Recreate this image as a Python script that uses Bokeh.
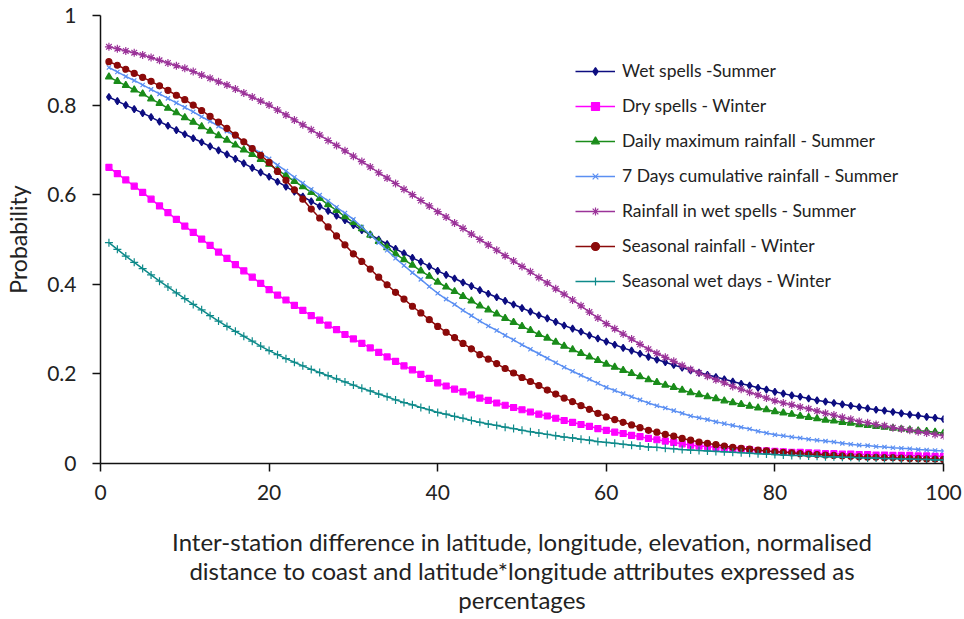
from bokeh.plotting import figure
from bokeh.models import Range1d, FixedTicker, Legend, LegendItem
from bokeh.embed import file_html
from bokeh.resources import INLINE

x_values = list(range(1, 101))

wet_spells_summer = [
    0.818, 0.809, 0.800, 0.791, 0.782, 0.773, 0.763, 0.754, 0.744, 0.735,
    0.726, 0.717, 0.708, 0.699, 0.690, 0.680, 0.670, 0.660, 0.650, 0.640,
    0.629, 0.618, 0.607, 0.596, 0.585, 0.574, 0.564, 0.553, 0.543, 0.532,
    0.521, 0.511, 0.500, 0.490, 0.479, 0.469, 0.459, 0.450, 0.440, 0.430,
    0.421, 0.413, 0.404, 0.396, 0.387, 0.379, 0.371, 0.363, 0.355, 0.347,
    0.339, 0.331, 0.324, 0.316, 0.308, 0.301, 0.294, 0.286, 0.279, 0.272,
    0.265, 0.258, 0.252, 0.245, 0.238, 0.232, 0.226, 0.220, 0.214, 0.208,
    0.203, 0.198, 0.193, 0.188, 0.183, 0.178, 0.174, 0.169, 0.165, 0.160,
    0.156, 0.152, 0.149, 0.145, 0.141, 0.138, 0.135, 0.132, 0.129, 0.126,
    0.123, 0.120, 0.118, 0.115, 0.112, 0.109, 0.107, 0.104, 0.102, 0.099,
]

dry_spells_winter = [
    0.661, 0.647, 0.633, 0.619, 0.605, 0.590, 0.575, 0.560, 0.545, 0.530,
    0.516, 0.501, 0.487, 0.472, 0.458, 0.444, 0.430, 0.416, 0.402, 0.388,
    0.376, 0.365, 0.353, 0.342, 0.330, 0.320, 0.309, 0.299, 0.288, 0.278,
    0.268, 0.258, 0.248, 0.238, 0.228, 0.218, 0.209, 0.199, 0.190, 0.180,
    0.173, 0.166, 0.160, 0.153, 0.146, 0.141, 0.135, 0.130, 0.125, 0.120,
    0.115, 0.110, 0.106, 0.101, 0.096, 0.092, 0.087, 0.083, 0.078, 0.074,
    0.070, 0.067, 0.063, 0.060, 0.056, 0.053, 0.050, 0.047, 0.044, 0.041,
    0.039, 0.038, 0.036, 0.035, 0.033, 0.032, 0.031, 0.029, 0.028, 0.027,
    0.026, 0.025, 0.025, 0.024, 0.023, 0.022, 0.022, 0.021, 0.021, 0.020,
    0.020, 0.019, 0.019, 0.018, 0.018, 0.018, 0.017, 0.017, 0.016, 0.016,
]

daily_max_rainfall_summer = [
    0.863, 0.853, 0.844, 0.834, 0.825, 0.814, 0.804, 0.793, 0.783, 0.772,
    0.762, 0.752, 0.742, 0.732, 0.722, 0.711, 0.700, 0.690, 0.679, 0.668,
    0.655, 0.643, 0.630, 0.618, 0.605, 0.592, 0.578, 0.565, 0.551, 0.538,
    0.524, 0.510, 0.496, 0.482, 0.468, 0.455, 0.443, 0.430, 0.418, 0.405,
    0.394, 0.384, 0.373, 0.363, 0.352, 0.343, 0.334, 0.324, 0.315, 0.306,
    0.297, 0.288, 0.280, 0.271, 0.262, 0.254, 0.246, 0.238, 0.230, 0.222,
    0.215, 0.208, 0.201, 0.194, 0.187, 0.181, 0.175, 0.170, 0.164, 0.158,
    0.154, 0.149, 0.145, 0.140, 0.136, 0.132, 0.128, 0.124, 0.120, 0.116,
    0.113, 0.110, 0.106, 0.103, 0.100, 0.097, 0.095, 0.092, 0.090, 0.087,
    0.085, 0.083, 0.081, 0.079, 0.077, 0.075, 0.073, 0.072, 0.070, 0.068,
]

cumulative_7day_summer = [
    0.884, 0.874, 0.864, 0.855, 0.845, 0.835, 0.825, 0.815, 0.805, 0.795,
    0.785, 0.774, 0.764, 0.753, 0.742, 0.730, 0.718, 0.705, 0.693, 0.680,
    0.666, 0.653, 0.639, 0.626, 0.612, 0.599, 0.586, 0.572, 0.559, 0.545,
    0.528, 0.511, 0.493, 0.476, 0.458, 0.442, 0.426, 0.411, 0.395, 0.380,
    0.367, 0.355, 0.342, 0.330, 0.318, 0.307, 0.297, 0.286, 0.276, 0.265,
    0.255, 0.245, 0.235, 0.225, 0.215, 0.206, 0.197, 0.188, 0.179, 0.170,
    0.163, 0.156, 0.149, 0.142, 0.135, 0.129, 0.124, 0.118, 0.112, 0.106,
    0.102, 0.098, 0.093, 0.089, 0.085, 0.081, 0.077, 0.072, 0.068, 0.064,
    0.062, 0.059, 0.057, 0.054, 0.052, 0.050, 0.048, 0.045, 0.043, 0.041,
    0.040, 0.038, 0.037, 0.035, 0.034, 0.033, 0.031, 0.030, 0.029, 0.028,
]

rainfall_wet_spells_summer = [
    0.930, 0.926, 0.921, 0.917, 0.912, 0.906, 0.900, 0.894, 0.888, 0.882,
    0.875, 0.867, 0.860, 0.852, 0.845, 0.836, 0.827, 0.818, 0.809, 0.800,
    0.789, 0.778, 0.767, 0.756, 0.745, 0.733, 0.721, 0.710, 0.698, 0.686,
    0.674, 0.662, 0.649, 0.637, 0.625, 0.612, 0.600, 0.587, 0.575, 0.562,
    0.550, 0.537, 0.525, 0.512, 0.500, 0.488, 0.476, 0.464, 0.452, 0.440,
    0.428, 0.415, 0.403, 0.390, 0.378, 0.365, 0.352, 0.338, 0.325, 0.312,
    0.301, 0.289, 0.278, 0.266, 0.255, 0.246, 0.237, 0.228, 0.219, 0.210,
    0.202, 0.195, 0.187, 0.180, 0.172, 0.166, 0.159, 0.153, 0.146, 0.140,
    0.135, 0.131, 0.126, 0.122, 0.117, 0.112, 0.108, 0.103, 0.099, 0.094,
    0.091, 0.087, 0.084, 0.080, 0.077, 0.074, 0.071, 0.068, 0.065, 0.062,
]

seasonal_rainfall_winter = [
    0.897, 0.889, 0.880, 0.871, 0.862, 0.853, 0.843, 0.833, 0.822, 0.812,
    0.800, 0.788, 0.775, 0.762, 0.748, 0.733, 0.718, 0.703, 0.688, 0.672,
    0.652, 0.632, 0.611, 0.590, 0.568, 0.548, 0.528, 0.508, 0.488, 0.468,
    0.451, 0.434, 0.416, 0.399, 0.382, 0.367, 0.351, 0.336, 0.321, 0.306,
    0.293, 0.281, 0.268, 0.256, 0.243, 0.233, 0.223, 0.212, 0.202, 0.192,
    0.183, 0.174, 0.164, 0.155, 0.146, 0.138, 0.129, 0.121, 0.112, 0.104,
    0.098, 0.092, 0.086, 0.080, 0.074, 0.070, 0.065, 0.061, 0.056, 0.052,
    0.048, 0.045, 0.042, 0.039, 0.036, 0.034, 0.032, 0.030, 0.028, 0.026,
    0.025, 0.024, 0.022, 0.021, 0.020, 0.019, 0.018, 0.017, 0.016, 0.015,
    0.014, 0.014, 0.013, 0.013, 0.012, 0.011, 0.011, 0.010, 0.010, 0.009,
]

seasonal_wet_days_winter = [
    0.493, 0.478, 0.463, 0.449, 0.435, 0.421, 0.407, 0.394, 0.381, 0.368,
    0.355, 0.343, 0.330, 0.318, 0.306, 0.295, 0.284, 0.273, 0.262, 0.252,
    0.243, 0.234, 0.226, 0.218, 0.210, 0.203, 0.196, 0.189, 0.182, 0.175,
    0.168, 0.162, 0.155, 0.149, 0.142, 0.136, 0.131, 0.125, 0.120, 0.114,
    0.110, 0.105, 0.101, 0.096, 0.092, 0.088, 0.085, 0.081, 0.078, 0.074,
    0.071, 0.068, 0.065, 0.062, 0.059, 0.057, 0.054, 0.052, 0.049, 0.047,
    0.045, 0.043, 0.041, 0.039, 0.037, 0.036, 0.034, 0.033, 0.031, 0.030,
    0.029, 0.028, 0.027, 0.026, 0.025, 0.024, 0.023, 0.022, 0.021, 0.020,
    0.019, 0.018, 0.018, 0.017, 0.016, 0.015, 0.015, 0.014, 0.014, 0.013,
    0.012, 0.012, 0.011, 0.011, 0.010, 0.010, 0.009, 0.009, 0.008, 0.008,
]

series_names = [
    "Wet spells -Summer",
    "Dry spells - Winter",
    "Daily maximum rainfall - Summer",
    "7 Days cumulative rainfall - Summer",
    "Rainfall in wet spells - Summer",
    "Seasonal rainfall - Winter",
    "Seasonal wet days - Winter",
]
series_values = [
    wet_spells_summer,
    dry_spells_winter,
    daily_max_rainfall_summer,
    cumulative_7day_summer,
    rainfall_wet_spells_summer,
    seasonal_rainfall_winter,
    seasonal_wet_days_winter,
]

x_ticks = [0, 20, 40, 60, 80, 100]
x_tick_labels = ["0", "20", "40", "60", "80", "100"]
y_ticks = [0, 0.2, 0.4, 0.6, 0.8, 1.0]
y_tick_labels = ["0", "0.2", "0.4", "0.6", "0.8", "1"]

x_title = ("Inter-station difference in latitude, longitude, elevation, normalised\n"
           "distance to coast and latitude*longitude attributes expressed as\n"
           "percentages")
y_title = "Probability"

# styles
colors = ["#0d0d80", "#ff00ff", "#1a8c1a", "#5b8ff2", "#9b3399", "#8b0a0a", "#0e8a8a"]
markers = ["diamond", "square", "triangle", "x", "asterisk", "circle", "cross"]
msizes = [7, 6, 7, 6, 8, 6, 8]

FONT = "Lato"

p = figure(width=964, height=619, output_backend="svg", toolbar_location=None,
           x_range=Range1d(0, 100), y_range=Range1d(0, 1),
           min_border_left=100, min_border_right=21, min_border_top=15,
           min_border_bottom=156)
p.outline_line_color = None
p.xgrid.grid_line_color = None
p.ygrid.grid_line_color = None
p.background_fill_color = "white"
p.border_fill_color = "white"

items = []
for name, vals, c, m, s in zip(series_names, series_values, colors, markers, msizes):
    r1 = p.line(x_values, vals, line_color=c, line_width=1.5)
    r2 = p.scatter(x_values, vals, marker=m, size=s, line_color=c, fill_color=c,
                   line_width=1.2)
    items.append(LegendItem(label=name, renderers=[r1, r2]))

legend = Legend(items=items, location=(475, 172))
legend.border_line_color = None
legend.background_fill_alpha = 0
legend.padding = 0
legend.margin = 0
legend.spacing = 14
legend.glyph_width = 40
legend.glyph_height = 20
legend.label_height = 20
legend.label_standoff = 7
legend.label_text_font = FONT
legend.label_text_font_size = "17.5px"
legend.label_text_color = "#222222"
p.add_layout(legend, "center")

for ax in (p.xaxis[0], p.yaxis[0]):
    ax.axis_line_color = "#111111"
    ax.axis_line_width = 1.5
    ax.major_tick_line_color = "#111111"
    ax.major_tick_line_width = 1.5
    ax.major_tick_in = 0
    ax.major_tick_out = 8
    ax.minor_tick_line_color = None
    ax.major_label_text_font = FONT
    ax.major_label_text_font_size = "21px"
    ax.major_label_text_color = "#222222"
    ax.axis_label_text_font = FONT
    ax.axis_label_text_font_style = "normal"
    ax.axis_label_text_color = "#222222"

p.xaxis.ticker = FixedTicker(ticks=x_ticks)
p.xaxis.major_label_overrides = dict(zip(x_ticks, x_tick_labels))
p.yaxis.ticker = FixedTicker(ticks=y_ticks)
p.yaxis.major_label_overrides = dict(zip(y_ticks, y_tick_labels))

p.xaxis.major_label_standoff = 13
p.yaxis.major_label_standoff = 16

p.xaxis.axis_label = x_title
p.xaxis.axis_label_text_font_size = "24px"
p.xaxis.axis_label_text_line_height = 1.0
p.xaxis.axis_label_standoff = 24

p.yaxis.axis_label = y_title
p.yaxis.axis_label_text_font_size = "23px"
p.yaxis.axis_label_standoff = 12

open("out.html", "w").write(file_html(p, INLINE))
